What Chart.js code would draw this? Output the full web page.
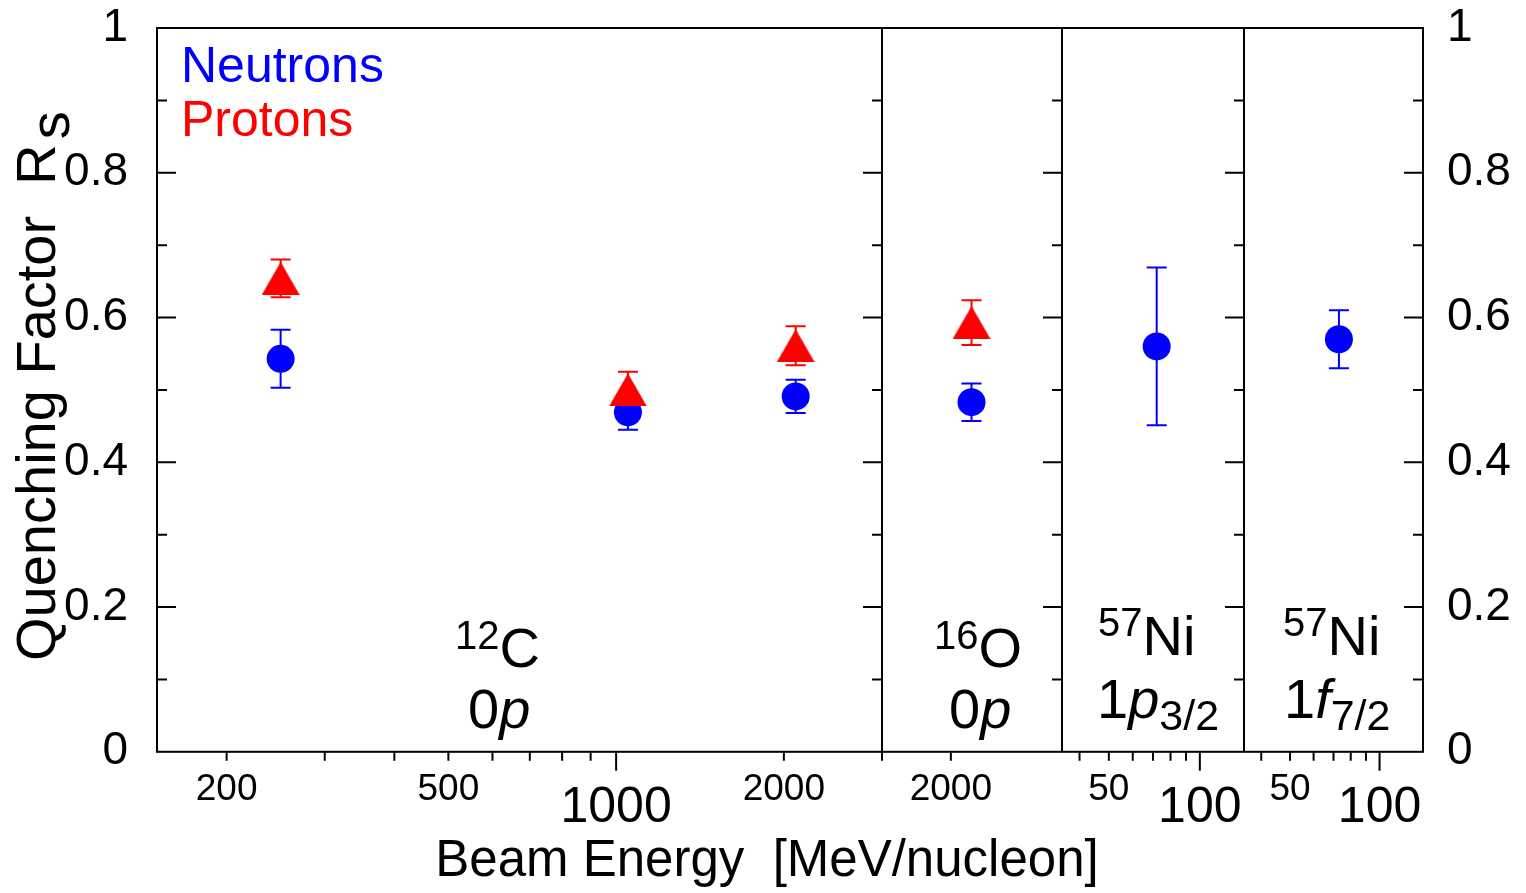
<!DOCTYPE html>
<html>
<head>
<meta charset="utf-8">
<script src="https://cdn.jsdelivr.net/npm/chart.js@4.4.1/dist/chart.umd.min.js"></script>
<style>
html,body{margin:0;padding:0;background:#fff;}
#wrap{width:1526px;height:893px;position:relative;}
</style>
</head>
<body>
<div id="wrap"><canvas id="c" width="1526" height="893"></canvas></div>
<script>
// ---------------- data ----------------
// Panel 1: 12C 0p
const panel1Energy = [250, 1050, 2100];
const panel1Neutron = [0.543, 0.469, 0.491];
const panel1NeutronErr = [0.040, 0.024, 0.023];
const panel1Proton = [0.654, 0.500, 0.561];
const panel1ProtonErr = [0.026, 0.025, 0.027];
// Panel 2: 16O 0p
const panel2Energy = [2100];
const panel2Neutron = [0.483];
const panel2NeutronErr = [0.026];
const panel2Proton = [0.593];
const panel2ProtonErr = [0.031];
// Panel 3: 57Ni 1p3/2
const panel3Energy = [72];
const panel3Neutron = [0.560];
const panel3NeutronErr = [0.109];
// Panel 4: 57Ni 1f7/2
const panel4Energy = [73];
const panel4Neutron = [0.570];
const panel4NeutronErr = [0.040];

// axis ranges / ticks
const panel1Range = [150, 3000];
const panel2Range = [1700, 2600];
const panel3Range = [35, 140];
const panel4Range = [35, 140];
const panel1Ticks = [200, 300, 400, 500, 600, 700, 800, 900, 1000, 2000, 3000];
const panel2Ticks = [2000];
const panel3Ticks = [40, 50, 60, 70, 80, 90, 100];
const panel4Ticks = [40, 50, 60, 70, 80, 90, 100];
const panel1Labels = {200: '200', 500: '500', 1000: '1000', 2000: '2000'};
const panel2Labels = {2000: '2000'};
const panel3Labels = {50: '50', 100: '100'};
const panel4Labels = {50: '50', 100: '100'};
const bigTickValues = [1000, 100];
const yMajorTicks = [0.2, 0.4, 0.6, 0.8];
const yMinorTicks = [0.1, 0.3, 0.5, 0.7, 0.9];

const BLUE = '#0000ff';
const RED = '#ff0000';
const FONT = '"Liberation Sans", Arial, Helvetica, sans-serif';

function pts(xs, ys) { return xs.map((x, i) => ({x: x, y: ys[i]})); }

function makeTriangle(color) {
  const w = 38, h = 33;
  const c = document.createElement('canvas');
  c.width = w; c.height = h;
  const g = c.getContext('2d');
  g.fillStyle = color;
  g.beginPath();
  g.moveTo(w / 2, 0); g.lineTo(w, h); g.lineTo(0, h); g.closePath();
  g.fill();
  return c;
}
const triRed = makeTriangle(RED);

function neutronSet(axis, xs, ys, errs) {
  return {label: 'Neutrons', xAxisID: axis, yAxisID: 'y', data: pts(xs, ys), errors: errs, errColor: BLUE,
    pointStyle: 'circle', pointRadius: 14, pointHoverRadius: 14, backgroundColor: BLUE, borderWidth: 0, showLine: false, order: 1};
}
function protonSet(axis, xs, ys, errs) {
  return {label: 'Protons', xAxisID: axis, yAxisID: 'y', data: pts(xs, ys), errors: errs, errColor: RED,
    pointStyle: triRed, pointRadius: 17, pointHoverRadius: 17, backgroundColor: RED, borderWidth: 0, showLine: false, order: 0};
}

function xScale(range, weight, ticks, labels) {
  return {
    type: 'logarithmic', position: 'bottom', stack: 'energy', stackWeight: weight,
    min: range[0], max: range[1],
    afterBuildTicks: s => { s.ticks = ticks.map(v => ({value: v})); },
    afterFit: s => { s.height = 80; s.paddingLeft = 0; s.paddingRight = 0; },
    grid: {display: false, drawTicks: false},
    border: {display: false},
    ticks: {
      autoSkip: false, maxRotation: 0, minRotation: 0, padding: 0, color: '#000',
      callback: v => (labels[v] !== undefined ? labels[v] : ''),
      font: ctx => (ctx.tick && bigTickValues.includes(ctx.tick.value))
        ? {family: FONT, size: 50, lineHeight: '112px'}
        : {family: FONT, size: 37, lineHeight: '76px'}
    }
  };
}

function yScale(pos, width, pad) {
  return {
    type: 'linear', position: pos, min: 0, max: 1,
    afterFit: s => { s.width = width; s.paddingTop = 0; s.paddingBottom = 0; },
    grid: {display: false, drawTicks: false}, border: {display: false},
    ticks: {stepSize: 0.2, padding: pad, color: '#000', font: {family: FONT, size: 46, lineHeight: '56px'},
      callback: v => String(Math.round(v * 10) / 10)}
  };
}

const decorPlugin = {
  id: 'decor',
  beforeDatasetsDraw(chart) {
    const ctx = chart.ctx;
    const ys = chart.scales.y;
    ctx.save();
    ctx.lineWidth = 2;
    chart.data.datasets.forEach((ds, di) => {
      const meta = chart.getDatasetMeta(di);
      ctx.strokeStyle = ds.errColor;
      meta.data.forEach((el, i) => {
        const v = ds.data[i].y, e = ds.errors[i];
        const x = el.x;
        const y1 = ys.getPixelForValue(v + e), y2 = ys.getPixelForValue(v - e);
        ctx.beginPath();
        ctx.moveTo(x, y1); ctx.lineTo(x, y2);
        ctx.moveTo(x - 10, y1); ctx.lineTo(x + 10, y1);
        ctx.moveTo(x - 10, y2); ctx.lineTo(x + 10, y2);
        ctx.stroke();
      });
    });
    ctx.restore();
  },
  afterDraw(chart) {
    const ctx = chart.ctx;
    const a = chart.chartArea;
    const ys = chart.scales.y;
    const xs = [chart.scales.x1, chart.scales.x2, chart.scales.x3, chart.scales.x4];
    const tickLists = [panel1Ticks, panel2Ticks, panel3Ticks, panel4Ticks];
    ctx.save();
    ctx.strokeStyle = '#000';
    ctx.lineWidth = 2;
    // frame
    ctx.strokeRect(a.left, a.top, a.right - a.left, a.bottom - a.top);
    // dividers
    ctx.beginPath();
    for (let i = 0; i < 3; i++) {
      ctx.moveTo(xs[i].right, a.top); ctx.lineTo(xs[i].right, a.bottom);
    }
    ctx.stroke();
    // x ticks (outward)
    ctx.beginPath();
    xs.forEach((s, i) => {
      tickLists[i].forEach(v => {
        const px = s.getPixelForValue(v);
        const len = bigTickValues.includes(v) ? 19 : 9;
        ctx.moveTo(px, a.bottom); ctx.lineTo(px, a.bottom + len);
      });
    });
    // y ticks (inward)
    const rights = [xs[0].right, xs[1].right, xs[2].right, a.right];
    const yt = yMajorTicks.map(v => [v, 19]).concat(yMinorTicks.map(v => [v, 10]));
    yt.forEach(([v, len]) => {
      const py = ys.getPixelForValue(v);
      ctx.moveTo(a.left, py); ctx.lineTo(a.left + len, py);
      rights.forEach(r => { ctx.moveTo(r, py); ctx.lineTo(r - len, py); });
    });
    ctx.stroke();

    // legend text
    ctx.textBaseline = 'alphabetic';
    ctx.textAlign = 'left';
    ctx.font = '50px ' + FONT;
    ctx.fillStyle = BLUE;
    ctx.fillText('Neutrons', 181, 82);
    ctx.fillStyle = RED;
    ctx.fillText('Protons', 181, 136);

    // panel annotations
    ctx.fillStyle = '#000';
    const MAIN = 56, SMALL = 40, SUB = 43;
    function seq(x, y, parts) {
      parts.forEach(p => {
        const size = p.sub ? SUB : (p.small ? SMALL : MAIN);
        ctx.font = (p.it ? 'italic ' : '') + size + 'px ' + FONT;
        ctx.fillText(p.t, x, y + (p.dy || 0));
        x += ctx.measureText(p.t).width;
      });
    }
    seq(xs[0].left + 298, 667, [{t: '12', small: true, dy: -18}, {t: 'C'}]);
    seq(xs[0].left + 311, 728, [{t: '0'}, {t: 'p', it: true}]);
    seq(xs[1].left + 52, 667, [{t: '16', small: true, dy: -18}, {t: 'O'}]);
    seq(xs[1].left + 67, 728, [{t: '0'}, {t: 'p', it: true}]);
    seq(xs[2].left + 36, 655, [{t: '57', small: true, dy: -19}, {t: 'Ni'}]);
    seq(xs[2].left + 35, 718, [{t: '1'}, {t: 'p', it: true}, {t: '3/2', sub: true, dy: 12}]);
    seq(xs[3].left + 39, 655, [{t: '57', small: true, dy: -19}, {t: 'Ni'}]);
    seq(xs[3].left + 40, 718, [{t: '1'}, {t: 'f', it: true}, {t: '7/2', sub: true, dy: 12}]);

    // y axis title with subscript
    ctx.save();
    ctx.translate(55, 661);
    ctx.rotate(-Math.PI / 2);
    ctx.font = '56px ' + FONT;
    const main = 'Quenching Factor  R';
    ctx.fillText(main, 0, 0);
    const w = ctx.measureText(main).width;
    ctx.fillText('s', w + 5, 14);
    ctx.restore();

    ctx.restore();
  }
};

new Chart(document.getElementById('c'), {
  type: 'scatter',
  data: {
    datasets: [
      neutronSet('x1', panel1Energy, panel1Neutron, panel1NeutronErr),
      protonSet('x1', panel1Energy, panel1Proton, panel1ProtonErr),
      neutronSet('x2', panel2Energy, panel2Neutron, panel2NeutronErr),
      protonSet('x2', panel2Energy, panel2Proton, panel2ProtonErr),
      neutronSet('x3', panel3Energy, panel3Neutron, panel3NeutronErr),
      neutronSet('x4', panel4Energy, panel4Neutron, panel4NeutronErr)
    ]
  },
  options: {
    responsive: false,
    animation: false,
    devicePixelRatio: 1,
    layout: {padding: {top: 28, left: 8, right: 0, bottom: 0}},
    plugins: {
      legend: {display: false},
      tooltip: {enabled: false},
      title: {
        display: true, position: 'bottom', text: 'Beam Energy  [MeV/nucleon]', color: '#000',
        font: {family: FONT, size: 51, weight: 'normal', lineHeight: 1.2},
        padding: {top: 0, bottom: 0}
      }
    },
    scales: {
      x1: xScale(panel1Range, 725, panel1Ticks, panel1Labels),
      x2: xScale(panel2Range, 180, panel2Ticks, panel2Labels),
      x3: xScale(panel3Range, 182, panel3Ticks, panel3Labels),
      x4: xScale(panel4Range, 179, panel4Ticks, panel4Labels),
      y: yScale('left', 149, 29),
      y2: yScale('right', 103, 24)
    }
  },
  plugins: [decorPlugin]
});
</script>
</body>
</html>
